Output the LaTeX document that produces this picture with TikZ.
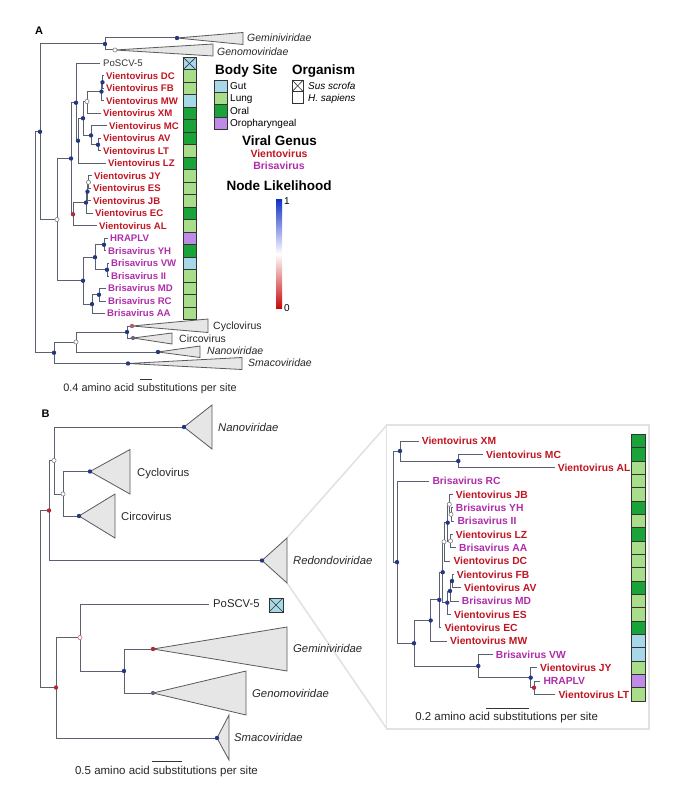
\documentclass[tikz,border=0pt]{standalone}
\usepackage{fontspec}
\setmainfont{Liberation Sans}
\definecolor{vcol}{RGB}{192,22,35}
\definecolor{bcol}{RGB}{175,45,170}
\definecolor{gut}{RGB}{166,216,232}
\definecolor{lung}{RGB}{168,222,138}
\definecolor{oral}{RGB}{25,163,56}
\definecolor{oroph}{RGB}{190,140,230}
\definecolor{nodeblue}{RGB}{35,55,130}
\definecolor{nodered}{RGB}{180,40,50}
\definecolor{nodepink}{RGB}{175,95,110}
\definecolor{edgec}{RGB}{90,96,112}
\definecolor{trifill}{RGB}{230,230,230}
\definecolor{tric}{RGB}{90,90,90}
\definecolor{boxgray}{RGB}{226,226,226}
\definecolor{barblue}{RGB}{20,50,200}
\definecolor{barred}{RGB}{200,10,10}
\begin{document}
\begin{tikzpicture}[x=1pt,y=-1pt,
  edge/.style={draw=edgec, line width=1pt},
  tri/.style={draw=tric, fill=trifill, line width=0.8pt, line join=miter},
  dotb/.style={circle, fill=nodeblue, inner sep=0pt, minimum size=4.4pt},
  dotw/.style={circle, fill=white, draw=gray, line width=0.6pt, inner sep=0pt, minimum size=4.2pt},
  dotr/.style={circle, fill=nodered, inner sep=0pt, minimum size=4.4pt},
  dotp/.style={circle, fill=nodepink, inner sep=0pt, minimum size=4.4pt},
  lab/.style={anchor=west, inner sep=0pt, text depth=0pt},
  va/.style={lab, text=vcol, font=\fontsize{9.6}{10}\selectfont\bfseries},
  ba/.style={lab, text=bcol, font=\fontsize{9.6}{10}\selectfont\bfseries},
  vb/.style={lab, text=vcol, font=\fontsize{10.3}{11}\selectfont\bfseries},
  bb/.style={lab, text=bcol, font=\fontsize{10.3}{11}\selectfont\bfseries},
  cla/.style={lab, text=black!85, font=\fontsize{10.5}{11}\selectfont},
  clb/.style={lab, text=black!85, font=\fontsize{11.3}{12}\selectfont},
  head/.style={inner sep=0pt, text depth=0pt, font=\fontsize{13.5}{14}\selectfont\bfseries},
  leg/.style={lab, font=\fontsize{10}{11}\selectfont},
  scl/.style={inner sep=0pt, text depth=0pt, text=black!85},
  strip/.style={draw=black!80, line width=0.6pt},
  zoomline/.style={draw=boxgray, line width=1.6pt}
]
\useasboundingbox (0,0) rectangle (689,799);

%================ PANEL A =================
\node[font=\fontsize{11}{12}\selectfont\bfseries, inner sep=0pt] (letA) at (39,31) {A};

% leaf labels
\node[lab, text=black!80, font=\fontsize{9.6}{10}\selectfont] (AP) at (103,63.5) {PoSCV-5};
\node[va] (ADC) at (106,76) {Vientovirus DC};
\node[va] (AFB) at (106,88.5) {Vientovirus FB};
\node[va] (AMW) at (106,101) {Vientovirus MW};
\node[va] (AXM) at (103,113.5) {Vientovirus XM};
\node[va] (AMC) at (109,126) {Vientovirus MC};
\node[va] (AAV) at (103,138.5) {Vientovirus AV};
\node[va] (ALT) at (103,151) {Vientovirus LT};
\node[va] (ALZ) at (108,163.5) {Vientovirus LZ};
\node[va] (AJY) at (94,176) {Vientovirus JY};
\node[va] (AES) at (93,188.5) {Vientovirus ES};
\node[va] (AJB) at (93,201) {Vientovirus JB};
\node[va] (AEC) at (95,213.5) {Vientovirus EC};
\node[va] (AAL) at (99,226) {Vientovirus AL};
\node[ba] (AHR) at (110,238.5) {HRAPLV};
\node[ba] (AYH) at (108,251) {Brisavirus YH};
\node[ba] (AVW) at (111,263.5) {Brisavirus VW};
\node[ba] (AII) at (111,276) {Brisavirus II};
\node[ba] (AMD) at (108,288.5) {Brisavirus MD};
\node[ba] (ARC) at (108,301) {Brisavirus RC};
\node[ba] (AAA) at (107,313.5) {Brisavirus AA};

% internal coordinates
\coordinate (aR) at (35,242);
\coordinate (aTop) at (40,131.8);
\coordinate (aGG) at (105,44);
\coordinate (aGem) at (177,38);
\coordinate (aGen) at (115,50);
\coordinate (aV) at (57,219.6);
\coordinate (a0) at (71,158.5);
\coordinate (a1) at (76,102.75);
\coordinate (a2) at (78,140.75);
\coordinate (a3) at (83,118.25);
\coordinate (a4) at (87,101.5);
\coordinate (a6) at (101.5,91.6);
\coordinate (a7) at (102.5,82.25);
\coordinate (a5) at (91,135.4);
\coordinate (a8) at (98,144.75);
\coordinate (b1) at (73,214.3);
\coordinate (b2) at (86,202.6);
\coordinate (b3) at (87.5,191.6);
\coordinate (b4) at (88.5,182.25);
\coordinate (c1) at (83,280.7);
\coordinate (c2) at (95,257.25);
\coordinate (c4) at (104,244.75);
\coordinate (c5) at (107,269.75);
\coordinate (c3) at (92,304.1);
\coordinate (c6) at (99,294.75);
\coordinate (aBot) at (54,352.75);
\coordinate (aCC) at (76,342);
\coordinate (aCy) at (127,332);
\coordinate (aCyc) at (132,326);
\coordinate (aCir) at (133,338);
\coordinate (aNan) at (158,352);
\coordinate (aSma) at (128,363.5);

% edges
\draw[edge] (aR) |- (aTop);
\draw[edge] (aR) |- (aBot);
\draw[edge] (aTop) |- (aGG);
\draw[edge] (aTop) |- (aV);
\draw[edge] (aGG) |- (aGem);
\draw[edge] (aGG) |- (aGen);
\draw[edge] (aV) |- (a0);
\draw[edge] (aV) |- (c1);
\draw[edge] (a0) |- (a1);
\draw[edge] (a0) |- (b1);
\draw[edge] (a1) |- ([xshift=-3pt]AP.west);
\draw[edge] (a1) |- (a2);
\draw[edge] (a2) |- (a3);
\draw[edge] (a2) |- ([xshift=-2.5pt]ALZ.west);
\draw[edge] (a3) |- (a4);
\draw[edge] (a3) |- (a5);
\draw[edge] (a4) |- (a6);
\draw[edge] (a4) |- ([xshift=-2.5pt]AXM.west);
\draw[edge] (a6) |- (a7);
\draw[edge] (a6) |- ([xshift=-2pt]AMW.west);
\draw[edge] (a7) |- ([xshift=-2pt]ADC.west);
\draw[edge] (a7) |- ([xshift=-2pt]AFB.west);
\draw[edge] (a5) |- ([xshift=-2.5pt]AMC.west);
\draw[edge] (a5) |- (a8);
\draw[edge] (a8) |- ([xshift=-2.5pt]AAV.west);
\draw[edge] (a8) |- ([xshift=-2.5pt]ALT.west);
\draw[edge] (b1) |- (b2);
\draw[edge] (b1) |- ([xshift=-2.5pt]AAL.west);
\draw[edge] (b2) |- (b3);
\draw[edge] (b2) |- ([xshift=-2.5pt]AEC.west);
\draw[edge] (b3) |- (b4);
\draw[edge] (b3) |- ([xshift=-2.5pt]AJB.west);
\draw[edge] (b4) |- ([xshift=-2.5pt]AJY.west);
\draw[edge] (b4) |- ([xshift=-2.5pt]AES.west);
\draw[edge] (c1) |- (c2);
\draw[edge] (c1) |- (c3);
\draw[edge] (c2) |- (c4);
\draw[edge] (c2) |- (c5);
\draw[edge] (c4) |- ([xshift=-2.5pt]AHR.west);
\draw[edge] (c4) |- ([xshift=-2.5pt]AYH.west);
\draw[edge] (c5) |- ([xshift=-2.5pt]AVW.west);
\draw[edge] (c5) |- ([xshift=-2.5pt]AII.west);
\draw[edge] (c3) |- (c6);
\draw[edge] (c3) |- ([xshift=-2.5pt]AAA.west);
\draw[edge] (c6) |- ([xshift=-2.5pt]AMD.west);
\draw[edge] (c6) |- ([xshift=-2.5pt]ARC.west);
\draw[edge] (aBot) |- (aCC);
\draw[edge] (aBot) |- (aSma);
\draw[edge] (aCC) |- (aCy);
\draw[edge] (aCC) |- (aNan);
\draw[edge] (aCy) |- (aCyc);
\draw[edge] (aCy) |- (aCir);

% collapsed clades
\draw[tri] (aGem) -- (243,32.5) -- (243,44.5) -- cycle;
\draw[tri] (aGen) -- (213,44) -- (213,56) -- cycle;
\draw[tri] (aCyc) -- (208,319) -- (208,332.5) -- cycle;
\draw[tri] (aCir) -- (172,333) -- (172,344) -- cycle;
\draw[tri] (aNan) -- (200,346) -- (200,357.5) -- cycle;
\draw[tri] (aSma) -- (242,357.5) -- (242,369.5) -- cycle;
\node[cla, font=\fontsize{10.5}{11}\selectfont\itshape] (tAGem) at (247,38) {Geminiviridae};
\node[cla, font=\fontsize{10.5}{11}\selectfont\itshape] (tAGen) at (217,51.5) {Genomoviridae};
\node[cla] (tACyc) at (213,326) {Cyclovirus};
\node[cla] (tACir) at (179,339) {Circovirus};
\node[cla, font=\fontsize{10.5}{11}\selectfont\itshape] (tANan) at (207,351) {Nanoviridae};
\node[cla, font=\fontsize{10.5}{11}\selectfont\itshape] (tASma) at (248,363) {Smacoviridae};

% node dots
\node[dotb] (dATop) at (aTop) {};
\node[dotb] (dAGG) at (aGG) {};
\node[dotb] (dAGem) at (aGem) {};
\node[dotw] (dAGen) at (aGen) {};
\node[dotw] (dAV) at (aV) {};
\node[dotb] (dA0) at (a0) {};
\node[dotb] (dA1) at (a1) {};
\node[dotb] (dA2) at (a2) {};
\node[dotb] (dA3) at (a3) {};
\node[dotw] (dA4) at (a4) {};
\node[dotb] (dA6) at (a6) {};
\node[dotb] (dA7) at (a7) {};
\node[dotb] (dA5) at (a5) {};
\node[dotb] (dA8) at (a8) {};
\node[dotr] (dB1) at (b1) {};
\node[dotb] (dB2) at (b2) {};
\node[dotb] (dB3) at (b3) {};
\node[dotw] (dB4) at (b4) {};
\node[dotb] (dC1) at (c1) {};
\node[dotb] (dC2) at (c2) {};
\node[dotb] (dC3) at (c3) {};
\node[dotb] (dC4) at (c4) {};
\node[dotb] (dC5) at (c5) {};
\node[dotb] (dC6) at (c6) {};
\node[dotb] (dABot) at (aBot) {};
\node[dotw] (dACC) at (aCC) {};
\node[dotb] (dACy) at (aCy) {};
\node[dotp] (dACyc) at (aCyc) {};
\node[circle, fill=gray!70!nodeblue, inner sep=0pt, minimum size=4.2pt] (dACir) at (aCir) {};
\node[dotb] (dANan) at (aNan) {};
\node[dotb] (dASma) at (aSma) {};

% colour strip A
\foreach \i/\c in {0/gut,1/lung,2/lung,3/gut,4/oral,5/oral,6/oral,7/lung,8/oral,9/lung,10/lung,11/lung,12/oral,13/lung,14/oroph,15/oral,16/gut,17/lung,18/lung,19/lung,20/lung}
  \draw[strip, fill=\c] (183,{57.25+12.5*\i}) rectangle +(13,12.5);
\draw[strip] (183,57.25) -- (196,69.75) (183,69.75) -- (196,57.25);

% scale bar A
\draw[black!80, line width=0.8pt] (140,379) -- (152,379);
\node[scl, font=\fontsize{10.9}{12}\selectfont] (sA) at (150,388) {0.4 amino acid substitutions per site};

% legend
\node[head, anchor=west] (hBody) at (215,70) {Body Site};
\node[head, anchor=west] (hOrg) at (292,70) {Organism};
\draw[strip, fill=gut] (214,80) rectangle (227,92.3);
\draw[strip, fill=lung] (214,92.3) rectangle (227,104.6);
\draw[strip, fill=oral] (214,104.6) rectangle (227,116.9);
\draw[strip, fill=oroph] (214,116.9) rectangle (227,129.2);
\node[leg] (lGut) at (230,86.1) {Gut};
\node[leg] (lLung) at (230,98.4) {Lung};
\node[leg] (lOral) at (230,110.7) {Oral};
\node[leg] (lOro) at (230,123) {Oropharyngeal};
\draw[strip, fill=white] (292,80) rectangle (303.3,91.7);
\draw[strip] (292,80) -- (303.3,91.7) (292,91.7) -- (303.3,80);
\draw[strip, fill=white] (292,91.7) rectangle (303.3,103.4);
\node[leg, font=\fontsize{10}{11}\selectfont\itshape] (lSus) at (308,86) {Sus scrofa};
\node[leg, font=\fontsize{10}{11}\selectfont\itshape] (lHs) at (308,97.6) {H. sapiens};
\node[head] (hGenus) at (279.5,141) {Viral Genus};
\node[inner sep=0pt, text depth=0pt, text=vcol, font=\fontsize{10.5}{11}\selectfont\bfseries] (lV) at (279,154) {Vientovirus};
\node[inner sep=0pt, text depth=0pt, text=bcol, font=\fontsize{10.5}{11}\selectfont\bfseries] (lB) at (279,165.5) {Brisavirus};
\node[head] (hNode) at (279,186) {Node Likelihood};
\shade[top color=barblue, bottom color=barred, middle color=white] (276,200) rectangle (282,308);
\node[leg, font=\fontsize{10}{11}\selectfont] (l1) at (284,201) {1};
\node[leg, font=\fontsize{10}{11}\selectfont] (l0) at (284,308) {0};

%================ PANEL B (left) =================
\node[font=\fontsize{11}{12}\selectfont\bfseries, inner sep=0pt] (letB) at (45.5,414) {B};

\coordinate (bR) at (40,599);
\coordinate (bTop) at (49,510.5);
\coordinate (bNC) at (54,460.5);
\coordinate (bNan) at (184,427);
\coordinate (bCC) at (63,494);
\coordinate (bCyc) at (90,471.5);
\coordinate (bCir) at (79,516);
\coordinate (bRed) at (262,560.5);
\coordinate (bBot) at (56,687.5);
\coordinate (bPG) at (80,637.5);
\coordinate (bGG) at (124,671);
\coordinate (bGem) at (153,649);
\coordinate (bGen) at (153,693);
\coordinate (bSma) at (217,738);

\node[clb] (BP) at (213,604) {PoSCV-5};

% zoom lines and inset frame
\draw[zoomline] (287,538) -- (387,425);
\draw[zoomline] (287,583) -- (387,729);
\draw[draw=boxgray, line width=1.6pt, fill=white] (386.5,425) rectangle (649,729);

\draw[edge] (bR) |- (bTop);
\draw[edge] (bR) |- (bBot);
\draw[edge] (bTop) |- (bNC);
\draw[edge] (bTop) |- (bRed);
\draw[edge] (bNC) |- (bNan);
\draw[edge] (bNC) |- (bCC);
\draw[edge] (bCC) |- (bCyc);
\draw[edge] (bCC) |- (bCir);
\draw[edge] (bBot) |- (bPG);
\draw[edge] (bBot) |- (bSma);
\draw[edge] (bPG) |- ([xshift=-4pt]BP.west);
\draw[edge] (bPG) |- (bGG);
\draw[edge] (bGG) |- (bGem);
\draw[edge] (bGG) |- (bGen);

\draw[tri] (bNan) -- (212,405) -- (212,449) -- cycle;
\draw[tri] (bCyc) -- (130,449.5) -- (130,494) -- cycle;
\draw[tri] (bCir) -- (115,494) -- (115,538) -- cycle;
\draw[tri] (bRed) -- (287,538) -- (287,583) -- cycle;
\draw[tri] (bGem) -- (287,627) -- (287,671) -- cycle;
\draw[tri] (bGen) -- (246,671) -- (246,715) -- cycle;
\draw[tri] (bSma) -- (229,715) -- (229,760) -- cycle;

\node[clb, font=\fontsize{11.3}{12}\selectfont\itshape] (tBNan) at (218,427) {Nanoviridae};
\node[clb] (tBCyc) at (137,472) {Cyclovirus};
\node[clb] (tBCir) at (121,516) {Circovirus};
\node[clb, font=\fontsize{11.3}{12}\selectfont\itshape] (tBRed) at (293,560) {Redondoviridae};
\node[clb, font=\fontsize{11.3}{12}\selectfont\itshape] (tBGem) at (293,648) {Geminiviridae};
\node[clb, font=\fontsize{11.3}{12}\selectfont\itshape] (tBGen) at (252,693) {Genomoviridae};
\node[clb, font=\fontsize{11.3}{12}\selectfont\itshape] (tBSma) at (234,737) {Smacoviridae};

\draw[strip, fill=gut] (269,598) rectangle (283,612);
\draw[strip] (269,598) -- (283,612) (269,612) -- (283,598);

\node[dotr] (dBTop) at (bTop) {};
\node[dotw] (dBNC) at (bNC) {};
\node[dotb] (dBNan) at (bNan) {};
\node[dotw] (dBCC) at (bCC) {};
\node[dotb] (dBCyc) at (bCyc) {};
\node[dotb] (dBCir) at (bCir) {};
\node[dotb] (dBRed) at (bRed) {};
\node[dotr] (dBBot) at (bBot) {};
\node[circle, fill=white, draw=nodered!70, line width=0.6pt, inner sep=0pt, minimum size=4.2pt] (dBPG) at (bPG) {};
\node[dotb] (dBGG) at (bGG) {};
\node[dotr] (dBGem) at (bGem) {};
\node[circle, fill=gray!60!nodeblue, inner sep=0pt, minimum size=4.2pt] (dBGen) at (bGen) {};
\node[dotb] (dBSma) at (bSma) {};

\draw[black!80, line width=0.8pt] (152,761) -- (182,761);
\node[scl, font=\fontsize{11.5}{12}\selectfont] (sB) at (166.5,770) {0.5 amino acid substitutions per site};

%================ PANEL B inset =================
\node[vb] (IXM) at (421.7,441) {Vientovirus XM};
\node[vb] (IMC) at (486,454.33) {Vientovirus MC};
\node[vb] (IAL) at (557.7,467.67) {Vientovirus AL};
\node[bb] (IRC) at (432.3,481) {Brisavirus RC};
\node[vb] (IJB) at (455.7,494.33) {Vientovirus JB};
\node[bb] (IYH) at (455.7,507.67) {Brisavirus YH};
\node[bb] (III) at (457.3,521) {Brisavirus II};
\node[vb] (ILZ) at (455.7,534.33) {Vientovirus LZ};
\node[bb] (IAA) at (459,547.67) {Brisavirus AA};
\node[vb] (IDC) at (453.3,561) {Vientovirus DC};
\node[vb] (IFB) at (456.7,574.33) {Vientovirus FB};
\node[vb] (IAV) at (464,587.67) {Vientovirus AV};
\node[bb] (IMD) at (461.7,601) {Brisavirus MD};
\node[vb] (IES) at (454,614.33) {Vientovirus ES};
\node[vb] (IEC) at (444.3,627.67) {Vientovirus EC};
\node[vb] (IMW) at (450,641) {Vientovirus MW};
\node[bb] (IVW) at (495.7,654.33) {Brisavirus VW};
\node[vb] (IJY) at (540,667.67) {Vientovirus JY};
\node[bb] (IHR) at (543.3,681) {HRAPLV};
\node[vb] (ILT) at (558.3,694.33) {Vientovirus LT};

\coordinate (i0) at (393,506.5);
\coordinate (iT) at (400,451);
\coordinate (iMA) at (458.3,461);
\coordinate (i1) at (397,562.1);
\coordinate (i2) at (414,643.25);
\coordinate (i3) at (430.7,620.5);
\coordinate (i4) at (439.3,599.9);
\coordinate (i5) at (442.7,572.2);
\coordinate (i6) at (444,541.8);
\coordinate (i7) at (447.7,522.67);
\coordinate (iJ) at (449.3,504.33);
\coordinate (iYI) at (451,514.33);
\coordinate (iLA) at (450.5,541);
\coordinate (i8) at (447.3,602.67);
\coordinate (iFAM) at (450,591);
\coordinate (iFA) at (452,581);
\coordinate (i10) at (478.3,666);
\coordinate (i11) at (530.7,677.67);
\coordinate (i12) at (534,687.67);

\draw[edge] (i0) |- (iT);
\draw[edge] (i0) |- (i1);
\draw[edge] (iT) |- ([xshift=-3pt]IXM.west);
\draw[edge] (iT) |- (iMA);
\draw[edge] (iMA) |- ([xshift=-3pt]IMC.west);
\draw[edge] (iMA) |- ([xshift=-3pt]IAL.west);
\draw[edge] (i1) |- ([xshift=-3pt]IRC.west);
\draw[edge] (i1) |- (i2);
\draw[edge] (i2) |- (i3);
\draw[edge] (i2) |- (i10);
\draw[edge] (i3) |- (i4);
\draw[edge] (i3) |- ([xshift=-3pt]IMW.west);
\draw[edge] (i4) |- (i5);
\draw[edge] (i4) |- ([xshift=-3pt]IEC.west);
\draw[edge] (i5) |- (i6);
\draw[edge] (i5) |- (i8);
\draw[edge] (i6) |- (i7);
\draw[edge] (i6) |- ([xshift=-3pt]IDC.west);
\draw[edge] (i7) |- (iJ);
\draw[edge] (i7) |- (iLA);
\draw[edge] (iJ) |- ([xshift=-3pt]IJB.west);
\draw[edge] (iJ) |- (iYI);
\draw[edge] (iYI) |- ([xshift=-3pt]IYH.west);
\draw[edge] (iYI) |- ([xshift=-3pt]III.west);
\draw[edge] (iLA) |- ([xshift=-3pt]ILZ.west);
\draw[edge] (iLA) |- ([xshift=-3pt]IAA.west);
\draw[edge] (i8) |- (iFAM);
\draw[edge] (i8) |- ([xshift=-3pt]IES.west);
\draw[edge] (iFAM) |- (iFA);
\draw[edge] (iFAM) |- ([xshift=-3pt]IMD.west);
\draw[edge] (iFA) |- ([xshift=-3pt]IFB.west);
\draw[edge] (iFA) |- ([xshift=-3pt]IAV.west);
\draw[edge] (i10) |- ([xshift=-3pt]IVW.west);
\draw[edge] (i10) |- (i11);
\draw[edge] (i11) |- ([xshift=-3pt]IJY.west);
\draw[edge] (i11) |- (i12);
\draw[edge] (i12) |- ([xshift=-3pt]IHR.west);
\draw[edge] (i12) |- ([xshift=-3pt]ILT.west);

\node[dotb] (dIT) at (iT) {};
\node[dotb] (dIMA) at (iMA) {};
\node[dotb] (dI1) at (i1) {};
\node[dotb] (dI2) at (i2) {};
\node[dotb] (dI3) at (i3) {};
\node[dotb] (dI4) at (i4) {};
\node[dotb] (dI5) at (i5) {};
\node[dotw] (dI6) at (i6) {};
\node[dotb] (dI7) at (i7) {};
\node[dotw] (dIJ) at (iJ) {};
\node[dotw] (dIYI) at (iYI) {};
\node[dotw] (dILA) at (iLA) {};
\node[dotb] (dI8) at (i8) {};
\node[dotb] (dIFAM) at (iFAM) {};
\node[dotb] (dIFA) at (iFA) {};
\node[dotb] (dI10) at (i10) {};
\node[dotb] (dI11) at (i11) {};
\node[dotr] (dI12) at (i12) {};

\foreach \i/\c in {0/oral,1/oral,2/lung,3/lung,4/lung,5/oral,6/lung,7/oral,8/lung,9/lung,10/lung,11/oral,12/lung,13/lung,14/oral,15/gut,16/gut,17/lung,18/oroph,19/lung}
  \draw[strip, fill=\c] (631.7,{434.33+13.333*\i}) rectangle +(13.3,13.333);

\draw[black!80, line width=0.8pt] (485.7,708.3) -- (529,708.3);
\node[scl, font=\fontsize{11.5}{12}\selectfont] (sI) at (506.7,716.7) {0.2 amino acid substitutions per site};
\end{tikzpicture}
\end{document}
